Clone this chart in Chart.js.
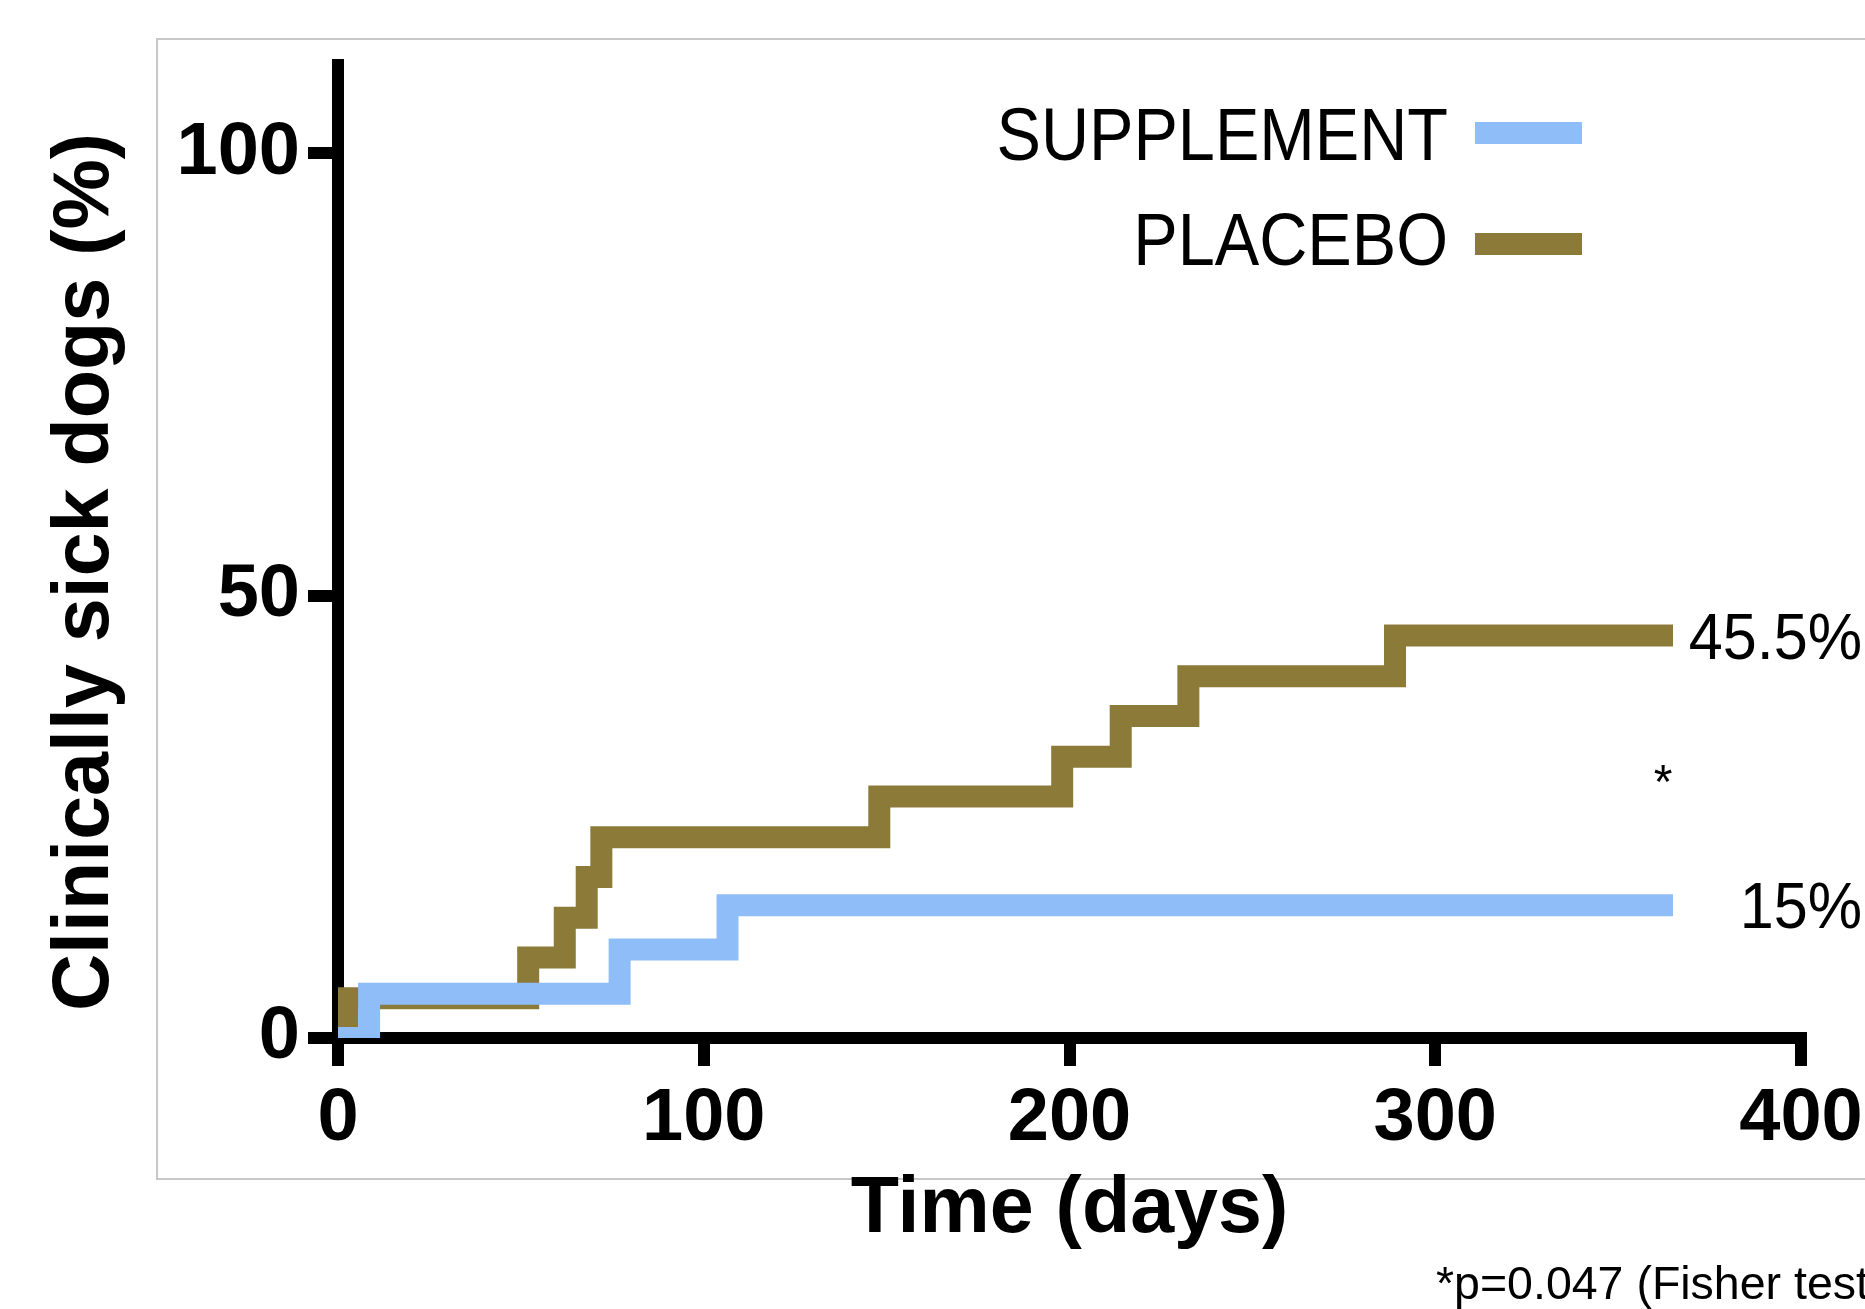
<!DOCTYPE html>
<html>
<head>
<meta charset="utf-8">
<title>Clinically sick dogs</title>
<script src="https://cdn.jsdelivr.net/npm/chart.js@4.4.0/dist/chart.umd.min.js"></script>
<style>
  html, body { margin: 0; padding: 0; background: #fff; }
  #wrap { width: 1865px; height: 1309px; }
</style>
</head>
<body>
<div id="wrap"><canvas id="kmChart"></canvas></div>
<script>
// data (days, % of dogs clinically sick)
var seriesNames = ['SUPPLEMENT', 'PLACEBO'];
var seriesColors = ['#8fbdf7', '#8b7a38'];
var supplementDays = [0, 8.5, 77, 106.5, 365];
var supplementPct = [0, 5, 10, 15, 15];
var placeboDays = [0, 2.5, 52, 62, 68, 72, 148, 198, 214, 232.5, 289, 365];
var placeboPct = [0, 4.5, 9.1, 13.6, 18.2, 22.7, 27.3, 31.8, 36.4, 40.9, 45.5, 45.5];
var xTicks = [0, 100, 200, 300, 400];
var yTicks = [0, 50, 100];
var xTitle = 'Time (days)';
var yTitle = 'Clinically sick dogs (%)';
var footnote = '*p=0.047 (Fisher test)';

function toPoints(days, pct) {
    var pts = [];
    for (var i = 0; i < days.length; i++) pts.push({x: days[i], y: pct[i]});
    return pts;
}

var FONT = 'Liberation Sans, Arial, Helvetica, sans-serif';

function drawText(ctx, text, x, y, font, align, sx) {
    ctx.save();
    ctx.font = font;
    ctx.fillStyle = '#000';
    ctx.textAlign = align;
    ctx.textBaseline = 'alphabetic';
    ctx.translate(x, y);
    ctx.scale(sx, 1);
    ctx.fillText(text, 0, 0);
    ctx.restore();
}

var extras = {
    id: 'extras',
    beforeDraw: function(chart) {
        var ctx = chart.ctx;
        ctx.save();
        ctx.strokeStyle = '#c8c8c8';
        ctx.lineWidth = 2;
        ctx.strokeRect(157, 39, 1800, 1140);
        ctx.restore();
    },
    afterDraw: function(chart) {
        var ctx = chart.ctx;
        var yScale = chart.scales.y;
        var ds = chart.data.datasets;

        // y axis title
        ctx.save();
        ctx.font = 'bold 79px ' + FONT;
        ctx.fillStyle = '#000';
        ctx.textAlign = 'center';
        ctx.textBaseline = 'alphabetic';
        ctx.translate(108, 572);
        ctx.rotate(-Math.PI / 2);
        ctx.fillText(yTitle, 0, 0);
        ctx.restore();

        // legend: text then swatch
        var textY = [160, 265];
        var swatchY = [133, 244];
        for (var i = 0; i < ds.length; i++) {
            drawText(ctx, ds[i].label, 1448, textY[i], '74px ' + FONT, 'right', 0.9);
            ctx.fillStyle = ds[i].borderColor;
            ctx.fillRect(1475, swatchY[i] - 11, 107, 22);
        }

        // end-of-follow-up labels
        for (var j = 0; j < ds.length; j++) {
            var d = ds[j].data;
            var last = d[d.length - 1].y;
            var py = yScale.getPixelForValue(last);
            drawText(ctx, last + '%', 1862, py + 23, '65px ' + FONT, 'right', 0.94);
        }

        drawText(ctx, '*', 1663, 798, '48px ' + FONT, 'center', 1);
        drawText(ctx, footnote, 1436, 1299, '46.5px ' + FONT, 'left', 1);
    }
};

var ctx = document.getElementById('kmChart').getContext('2d');
var km_chart = new Chart(ctx, {
    type: 'line',
    data: {
        datasets: [{
            label: seriesNames[0],
            data: toPoints(supplementDays, supplementPct),
            borderColor: seriesColors[0],
            backgroundColor: seriesColors[0],
            borderWidth: 22,
            stepped: 'before',
            pointRadius: 0,
            borderJoinStyle: 'miter',
            borderCapStyle: 'butt',
            fill: false,
            clip: 0
        }, {
            label: seriesNames[1],
            data: toPoints(placeboDays, placeboPct),
            borderColor: seriesColors[1],
            backgroundColor: seriesColors[1],
            borderWidth: 22,
            stepped: 'before',
            pointRadius: 0,
            borderJoinStyle: 'miter',
            borderCapStyle: 'butt',
            fill: false,
            clip: 0
        }]
    },
    options: {
        responsive: true,
        maintainAspectRatio: false,
        animation: false,
        events: [],
        layout: { padding: { left: 0, right: 64, top: 65, bottom: 0 } },
        plugins: {
            legend: { display: false },
            tooltip: { enabled: false }
        },
        scales: {
            x: {
                type: 'linear',
                min: 0,
                max: 400,
                afterBuildTicks: function(scale) {
                    scale.ticks = xTicks.map(function(v) { return {value: v}; });
                },
                afterFit: function(scale) {
                    scale.height = 271;
                    scale.paddingLeft = 0;
                    scale.paddingRight = 0;
                },
                grid: {
                    drawOnChartArea: false,
                    drawTicks: true,
                    tickLength: 28,
                    lineWidth: 12,
                    tickWidth: 12,
                    color: '#000'
                },
                border: { display: true, width: 12, color: '#000' },
                ticks: {
                    padding: 9,
                    maxRotation: 0,
                    color: '#000',
                    font: { family: FONT, weight: 'bold', size: 74, lineHeight: 1.2 }
                },
                title: {
                    display: true,
                    text: xTitle,
                    color: '#000',
                    padding: { top: 0, bottom: 51 },
                    font: { family: FONT, weight: 'bold', size: 79, lineHeight: 1.2 }
                }
            },
            y: {
                type: 'linear',
                min: 0,
                max: 110,
                afterBuildTicks: function(scale) {
                    scale.ticks = yTicks.map(function(v) { return {value: v}; });
                },
                afterFit: function(scale) {
                    scale.width = 338;
                    scale.paddingTop = 0;
                    scale.paddingBottom = 0;
                },
                grid: {
                    drawOnChartArea: false,
                    drawTicks: true,
                    tickLength: 30,
                    lineWidth: 12,
                    tickWidth: 12,
                    color: '#000'
                },
                border: { display: true, width: 12, color: '#000' },
                ticks: {
                    padding: 8,
                    color: '#000',
                    font: { family: FONT, weight: 'bold', size: 74, lineHeight: 1.2 }
                }
            }
        }
    },
    plugins: [extras]
});
</script>
</body>
</html>
